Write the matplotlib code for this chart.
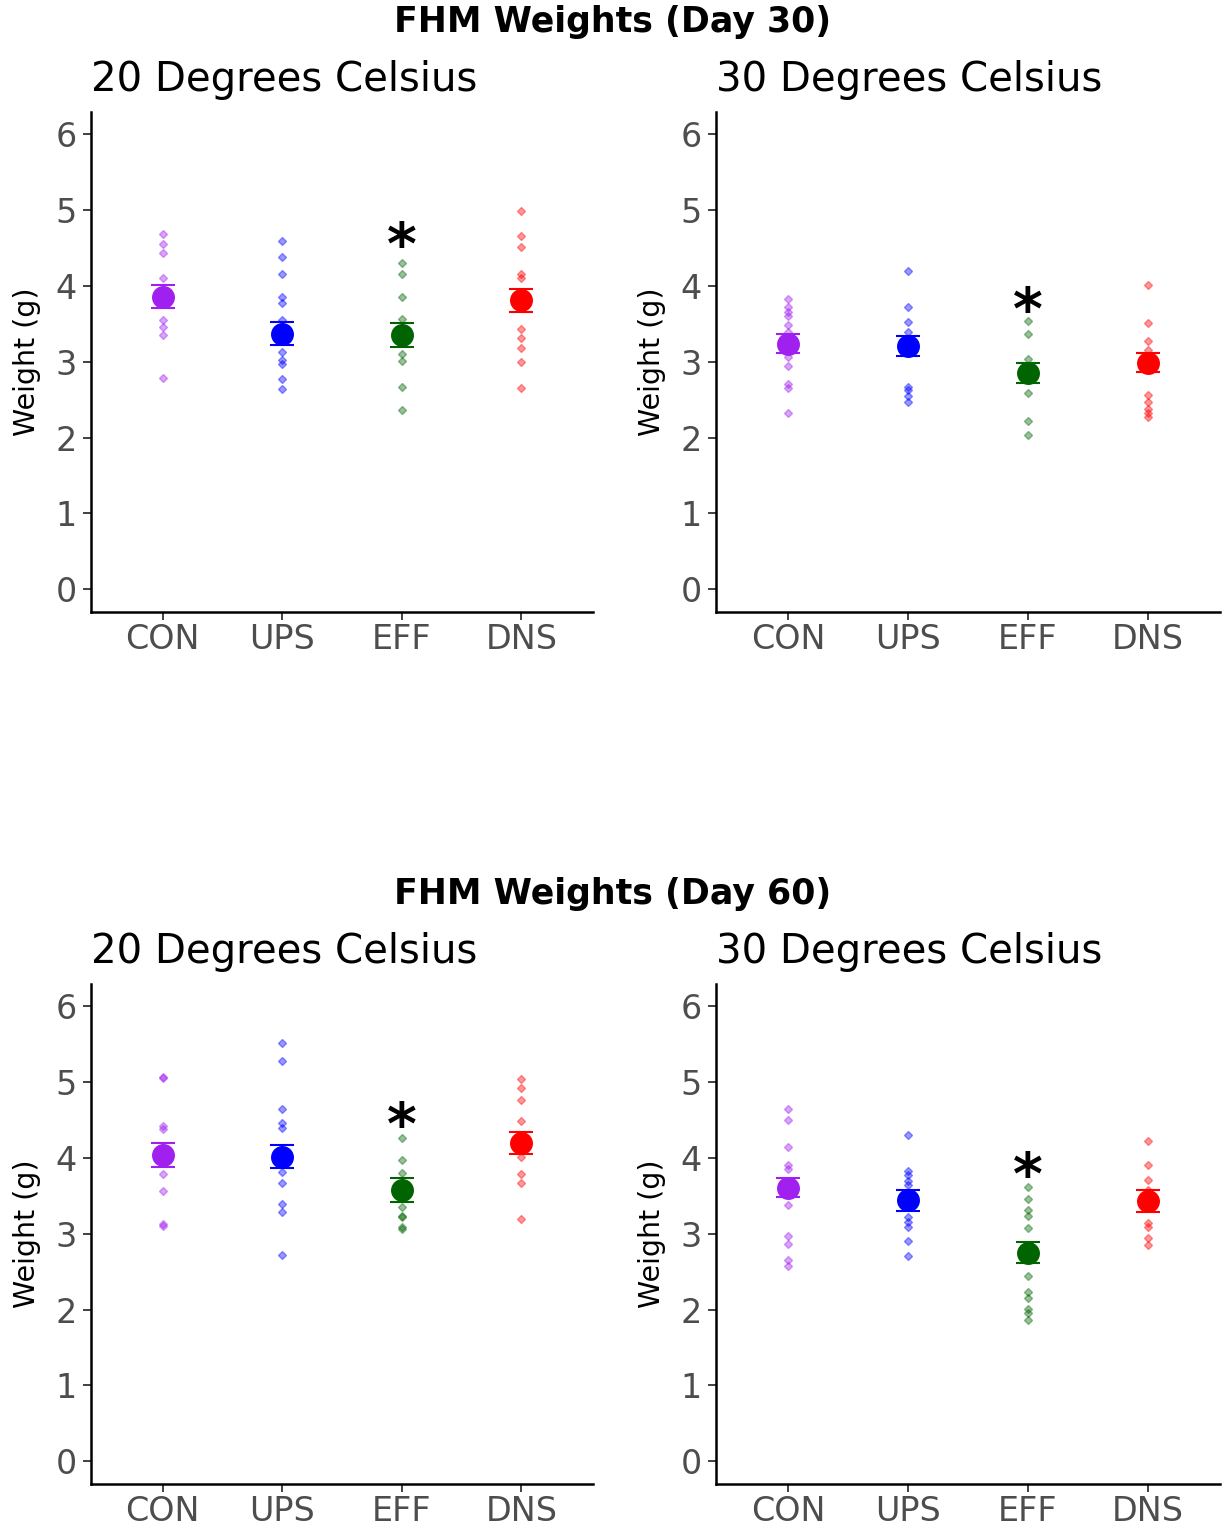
import numpy as np
import matplotlib

matplotlib.use('Agg')

import matplotlib.pyplot as plt

# groups and colours
groups = ['CON', 'UPS', 'EFF', 'DNS']
colors = ['#A020F0', '#0000FF', '#006400', '#FF0000']

# day 30, 20 C
d30_20_con = [4.69, 4.56, 4.43, 4.11, 3.90, 3.80, 3.55, 3.46, 3.35, 2.79]
d30_20_ups = [4.60, 4.38, 4.16, 3.86, 3.78, 3.55, 3.40, 3.13, 3.02, 2.97, 2.78, 2.64]
d30_20_eff = [4.30, 4.16, 3.85, 3.56, 3.40, 3.11, 3.01, 2.67, 2.36]
d30_20_dns = [4.99, 4.66, 4.52, 4.16, 4.11, 3.90, 3.43, 3.31, 3.18, 3.00, 2.65]
d30_20_mean = [3.86, 3.37, 3.35, 3.81]
d30_20_se = [0.155, 0.15, 0.16, 0.15]

# day 30, 30 C
d30_30_con = [3.83, 3.72, 3.66, 3.61, 3.48, 3.39, 3.24, 3.06, 2.95, 2.71, 2.65, 2.33]
d30_30_ups = [4.20, 3.72, 3.52, 3.39, 3.20, 2.67, 2.63, 2.55, 2.47]
d30_30_eff = [3.54, 3.37, 3.04, 2.85, 2.59, 2.22, 2.04]
d30_30_dns = [4.01, 3.51, 3.28, 3.15, 3.00, 2.56, 2.47, 2.38, 2.32, 2.27]
d30_30_mean = [3.24, 3.21, 2.85, 2.99]
d30_30_se = [0.125, 0.135, 0.13, 0.13]

# day 60, 20 C
d60_20_con = [5.07, 5.05, 4.42, 4.38, 4.00, 3.79, 3.56, 3.13, 3.10]
d60_20_ups = [5.52, 5.28, 4.65, 4.46, 4.40, 4.00, 3.82, 3.67, 3.39, 3.29, 2.72]
d60_20_eff = [4.27, 3.97, 3.80, 3.60, 3.36, 3.24, 3.22, 3.09, 3.07]
d60_20_dns = [5.04, 4.92, 4.76, 4.49, 4.20, 4.02, 3.79, 3.67, 3.19]
d60_20_mean = [4.04, 4.02, 3.58, 4.20]
d60_20_se = [0.155, 0.15, 0.155, 0.15]

# day 60, 30 C
d60_30_con = [4.65, 4.50, 4.14, 3.91, 3.86, 3.60, 3.38, 2.97, 2.87, 2.66, 2.57]
d60_30_ups = [4.30, 3.83, 3.77, 3.70, 3.65, 3.40, 3.22, 3.16, 3.09, 2.90, 2.71]
d60_30_eff = [3.62, 3.46, 3.31, 3.24, 3.08, 2.75, 2.45, 2.23, 2.16, 2.01, 1.95, 1.87]
d60_30_dns = [4.22, 3.91, 3.71, 3.58, 3.40, 3.14, 3.09, 2.94, 2.85]
d60_30_mean = [3.61, 3.44, 2.75, 3.43]
d60_30_se = [0.13, 0.145, 0.14, 0.145]

# asterisk heights (EFF)
star_y = [4.71, 3.86, 4.61, 3.95]

panels = [
    ('20 Degrees Celsius', [d30_20_con, d30_20_ups, d30_20_eff, d30_20_dns], d30_20_mean, d30_20_se),
    ('30 Degrees Celsius', [d30_30_con, d30_30_ups, d30_30_eff, d30_30_dns], d30_30_mean, d30_30_se),
    ('20 Degrees Celsius', [d60_20_con, d60_20_ups, d60_20_eff, d60_20_dns], d60_20_mean, d60_20_se),
    ('30 Degrees Celsius', [d60_30_con, d60_30_ups, d60_30_eff, d60_30_dns], d60_30_mean, d60_30_se),
]
titles = ['FHM Weights (Day 30)', 'FHM Weights (Day 60)']

W, H = 1225, 1528
fig = plt.figure(figsize=(W / 100, H / 100), dpi=100)
plt.rcParams['font.family'] = ['DejaVu Sans']

# axes boxes in pixels: left, top, right, bottom
boxes = [(91, 111.7, 593, 612), (716, 111.7, 1220, 612),
         (91, 983.7, 593, 1484), (716, 983.7, 1220, 1484)]

for i, (sub, pts, means, ses) in enumerate(panels):
    l, t, r, b = boxes[i]
    ax = fig.add_axes([l / W, 1 - b / H, (r - l) / W, (b - t) / H])
    x = np.arange(1, 5)
    for j in range(4):
        ax.plot(np.full(len(pts[j]), x[j]), pts[j], 'D', ms=3.6, color=colors[j],
                alpha=0.4, mec=colors[j], mew=1, zorder=2)
        ax.errorbar(x[j], means[j], yerr=ses[j], fmt='o', ms=15.5, color=colors[j],
                    ecolor=colors[j], elinewidth=1.5, capsize=8.5, capthick=1.5, zorder=3)
    ax.annotate('*', xy=(3, star_y[i]), xytext=(0, -23), textcoords='offset points',
                ha='center', va='baseline', fontsize=41, fontweight='bold', color='black')
    ax.set_xlim(0.4, 4.6)
    ax.set_ylim(-0.3, 6.3)
    ax.set_xticks(x)
    ax.set_xticklabels(groups)
    ax.set_yticks(range(0, 7))
    ax.tick_params(axis='both', labelsize=24, labelcolor='#4D4D4D', length=6,
                   width=1.3, color='#333333')
    ax.tick_params(axis='x', pad=2)
    ax.tick_params(axis='y', pad=4)
    for s in ['top', 'right']:
        ax.spines[s].set_visible(False)
    for s in ['left', 'bottom']:
        ax.spines[s].set_linewidth(1.8)
    ax.set_ylabel('Weight (g)', fontsize=20.5)
    ax.yaxis.set_label_coords(-0.10, 0.5)
    ax.set_title(sub, loc='left', fontsize=29, pad=15)

fig.text(0.5, 1 - 22 / H, titles[0], ha='center', va='center', fontsize=25, fontweight='bold')
fig.text(0.5, 1 - 894 / H, titles[1], ha='center', va='center', fontsize=25, fontweight='bold')

plt.savefig('out.png', dpi=100)
plt.close()
